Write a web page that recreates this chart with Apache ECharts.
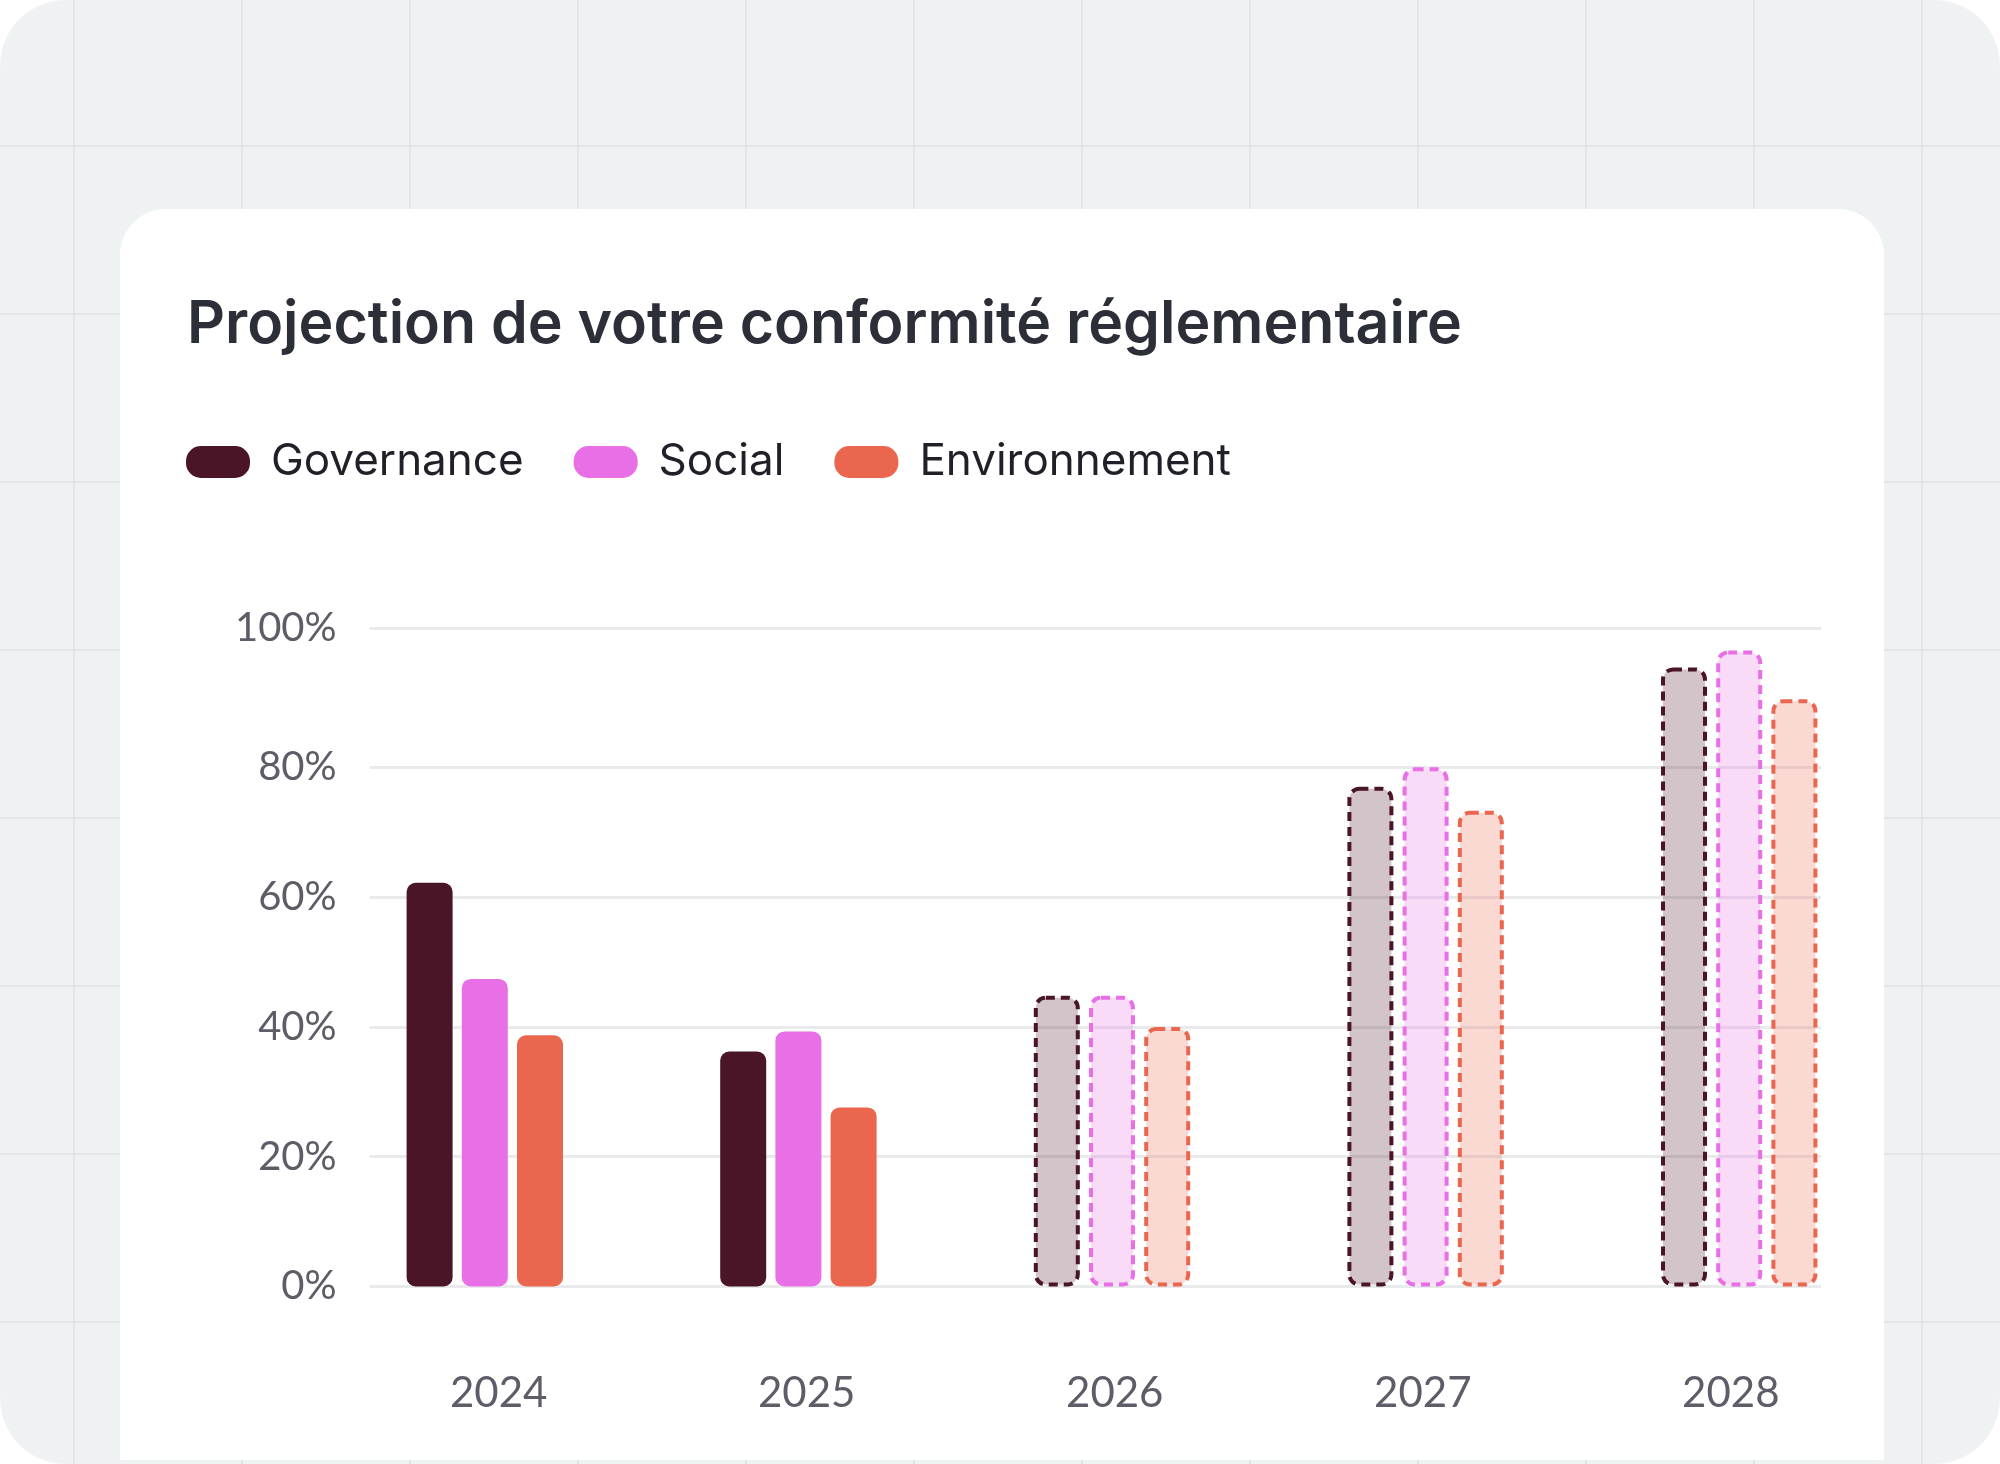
<!DOCTYPE html>
<html>
<head>
<meta charset="utf-8">
<script src="https://cdn.jsdelivr.net/npm/echarts@6/dist/echarts.min.js"></script>
<style>
  html, body { margin: 0; padding: 0; width: 2000px; height: 1464px; background: #ffffff; overflow: hidden; }
  #bg {
    position: absolute; left: 0; top: 0; width: 2000px; height: 1464px;
    border-radius: 66px;
    background-color: #eef2f3;
    background-image:
      linear-gradient(to right, #e2e6e8 2px, transparent 2px),
      linear-gradient(to bottom, #e2e6e8 2px, transparent 2px);
    background-size: 168px 168px;
    background-position: 73px 145px;
  }
  #card {
    position: absolute; left: 120px; top: 209px; width: 1764px; height: 1251px;
    background: #ffffff; border-radius: 46px 46px 0 0;
  }
  #chart { position: absolute; left: 0; top: 0; width: 2000px; height: 1464px; }
</style>
</head>
<body>
<div id="bg"></div>
<div id="card"></div>
<div id="chart"></div>
<script>
// ---- data ----
const titleText = 'Projection de votre conformité réglementaire';
const categories = ['2024', '2025', '2026', '2027', '2028'];
const seriesNames = ['Governance', 'Social', 'Environnement'];
const governance = [62.2, 36.2, 44.8, 77.0, 95.4];
const social = [47.4, 39.3, 44.8, 80.0, 98.0];
const environnement = [38.7, 27.6, 40.0, 73.3, 90.5];
const projected = [false, false, true, true, true];
const yTickValues = [0, 20, 40, 60, 80, 100];

// ---- styles ----
const colors = ['#4a1526', '#e86fe5', '#ea664f'];
const fills = ['rgba(74,21,38,0.25)', 'rgba(232,111,229,0.25)', 'rgba(234,102,79,0.25)'];
const axisMaxDraw = 101.5; // top grid line sits slightly above the linear 100 position in the reference

const chart = echarts.init(document.getElementById('chart'), null, { renderer: 'canvas' });

function buildData(values, si) {
  return values.map((v, i) => ({
    value: v,
    itemStyle: projected[i]
      ? { color: fills[si], borderColor: colors[si], borderWidth: 4, borderType: [9, 6], borderRadius: 10 }
      : { color: colors[si], borderWidth: 0, borderRadius: 9 }
  }));
}

const allValues = [governance, social, environnement];
const gridTop = 627.8, gridBottom = 1464 - 1286.5;
const lineColors = yTickValues.map(v => v === 100 ? 'rgba(0,0,0,0)' : '#e9eaec').concat(['#e9eaec']);

const pill = 'path://M15,0 L49,0 A15,15 0 0 1 64,15 L64,17 A15,15 0 0 1 49,32 L15,32 A15,15 0 0 1 0,17 L0,15 A15,15 0 0 1 15,0 Z';

const option = {
  animation: false,
  backgroundColor: 'transparent',
  title: {
    text: titleText,
    left: 182, top: 287,
    textStyle: { fontFamily: 'Inter', fontWeight: 600, fontSize: 59, lineHeight: 66, color: '#2c2e38' }
  },
  legend: {
    data: seriesNames,
    left: 181, top: 434,
    itemWidth: 64, itemHeight: 32, itemGap: 50,
    icon: pill,
    textStyle: { fontFamily: 'Inter', fontWeight: 400, fontSize: 44, lineHeight: 46, color: '#1f2028', padding: [0, 0, 0, 16] }
  },
  grid: [
    { left: 328, right: 104, top: gridTop, bottom: gridBottom },
    { left: 369.6, right: 179, top: gridTop, bottom: gridBottom },
    { left: 344.7, right: 115.2, top: gridTop, bottom: gridBottom }
  ],
  xAxis: [
    { type: 'category', gridIndex: 0, data: categories, show: false },
    { type: 'category', gridIndex: 1, data: categories, show: false },
    { type: 'category', gridIndex: 2, data: categories,
      axisLine: { show: false }, axisTick: { show: false }, splitLine: { show: false },
      axisLabel: { margin: 86, fontFamily: 'Lato', fontSize: 42, color: '#5c5d66' } }
  ],
  yAxis: [
    { type: 'value', gridIndex: 0, min: 0, max: axisMaxDraw, interval: 20, show: false },
    { type: 'value', gridIndex: 1, min: 0, max: axisMaxDraw, interval: 20,
      axisLine: { show: false }, axisTick: { show: false },
      axisLabel: {
        margin: 33, fontFamily: 'Lato', fontSize: 40, color: '#5c5d66',
        showMinLabel: true, showMaxLabel: true,
        formatter: v => (v > 100 ? '100%' : (v === 100 ? '' : v + '%'))
      },
      splitLine: { show: true, lineStyle: { color: lineColors, width: 3 } } },
    { type: 'value', gridIndex: 2, min: 0, max: axisMaxDraw, show: false }
  ],
  series: seriesNames.map((name, si) => ({
    name: name,
    type: 'bar',
    xAxisIndex: 0, yAxisIndex: 0,
    barWidth: 46, barGap: '20%',
    itemStyle: { color: colors[si] },
    data: buildData(allValues[si], si)
  }))
};
chart.setOption(option);
</script>
</body>
</html>
